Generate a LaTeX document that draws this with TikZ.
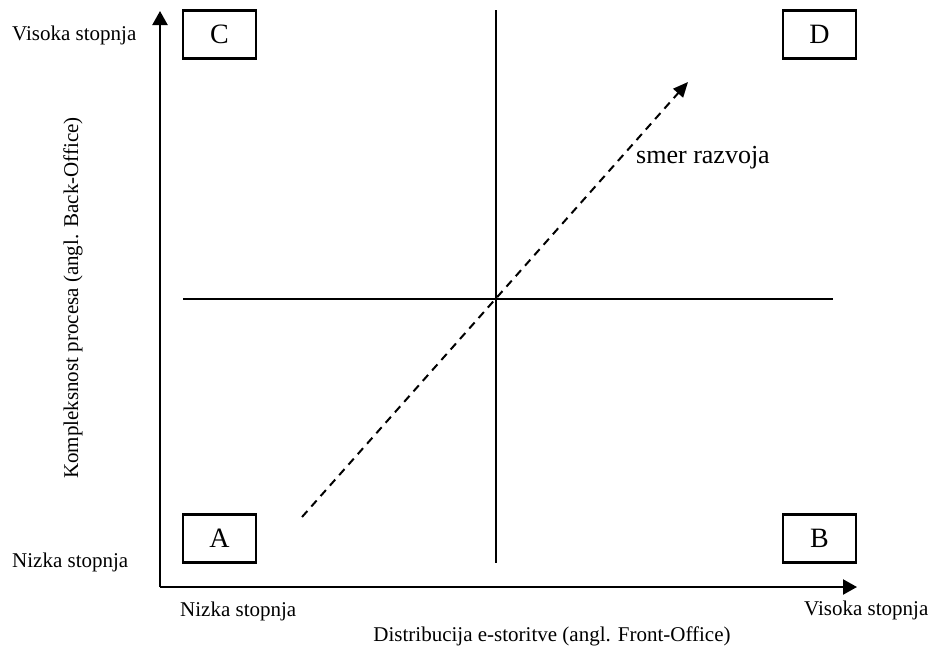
\documentclass[tikz,border=0pt]{standalone}
\usepackage{fontspec}
\setmainfont{Liberation Serif}
\usetikzlibrary{arrows.meta}
\begin{document}
\begin{tikzpicture}[x=1pt,y=-1pt,
  axis/.style={line width=2.2pt,-{Triangle[length=14pt,width=15pt]}},
  quad/.style={draw,line width=2.2pt,minimum width=73pt,minimum height=48pt,inner sep=0pt,
    font=\fontsize{28}{32}\selectfont},
  divider/.style={line width=2pt},
  trend/.style={line width=2pt,dash pattern=on 8pt off 6pt,-{Triangle[length=15pt,width=13pt]}},
  lbl/.style={font=\fontsize{21}{25}\selectfont,inner sep=0pt}]
\useasboundingbox (0,0) rectangle (933,646);

% axes
\coordinate (origin) at (160,587);
\coordinate (ytip) at (160,11);
\coordinate (xtip) at (857,587);
\draw[axis] (origin) -- (ytip);
\draw[axis] (origin) -- (xtip);

% quadrant boxes
\node[quad] (C) at (219.5,34.5) {C};
\node[quad] (D) at (819.5,34.5) {D};
\node[quad] (A) at (219.5,538.5) {A};
\node[quad] (B) at (819.5,538.5) {B};

% quadrant dividers
\coordinate (vtop) at (496,10);
\coordinate (vbot) at (496,563);
\coordinate (hl) at (183,299);
\coordinate (hr) at (833,299);
\draw[divider] (vtop) -- (vbot);
\draw[divider] (hl) -- (hr);

% development direction
\coordinate (trs) at (302,517);
\coordinate (tre) at (688,82);
\draw[trend] (trs) -- (tre);
\node[anchor=base west,inner sep=0pt,font=\fontsize{26}{30}\selectfont] (smer) at (636,163) {smer razvoja};

% axis level labels
\node[lbl,anchor=base west] (yhigh) at (12,40) {Visoka stopnja};
\node[lbl,anchor=base west] (ylow) at (12,567) {Nizka stopnja};
\node[lbl,anchor=base west] (xlow) at (180,616) {Nizka stopnja};
\node[lbl,anchor=base west] (xhigh) at (804,615) {Visoka stopnja};

% axis titles
\node[lbl,anchor=base] (xtitle) at (552,641) {Distribucija e-storitve (angl. Front-Office)};
\node[lbl,rotate=90] (ytitle) at (73,298) {Kompleksnost procesa (angl. Back-Office)};
\end{tikzpicture}
\end{document}
